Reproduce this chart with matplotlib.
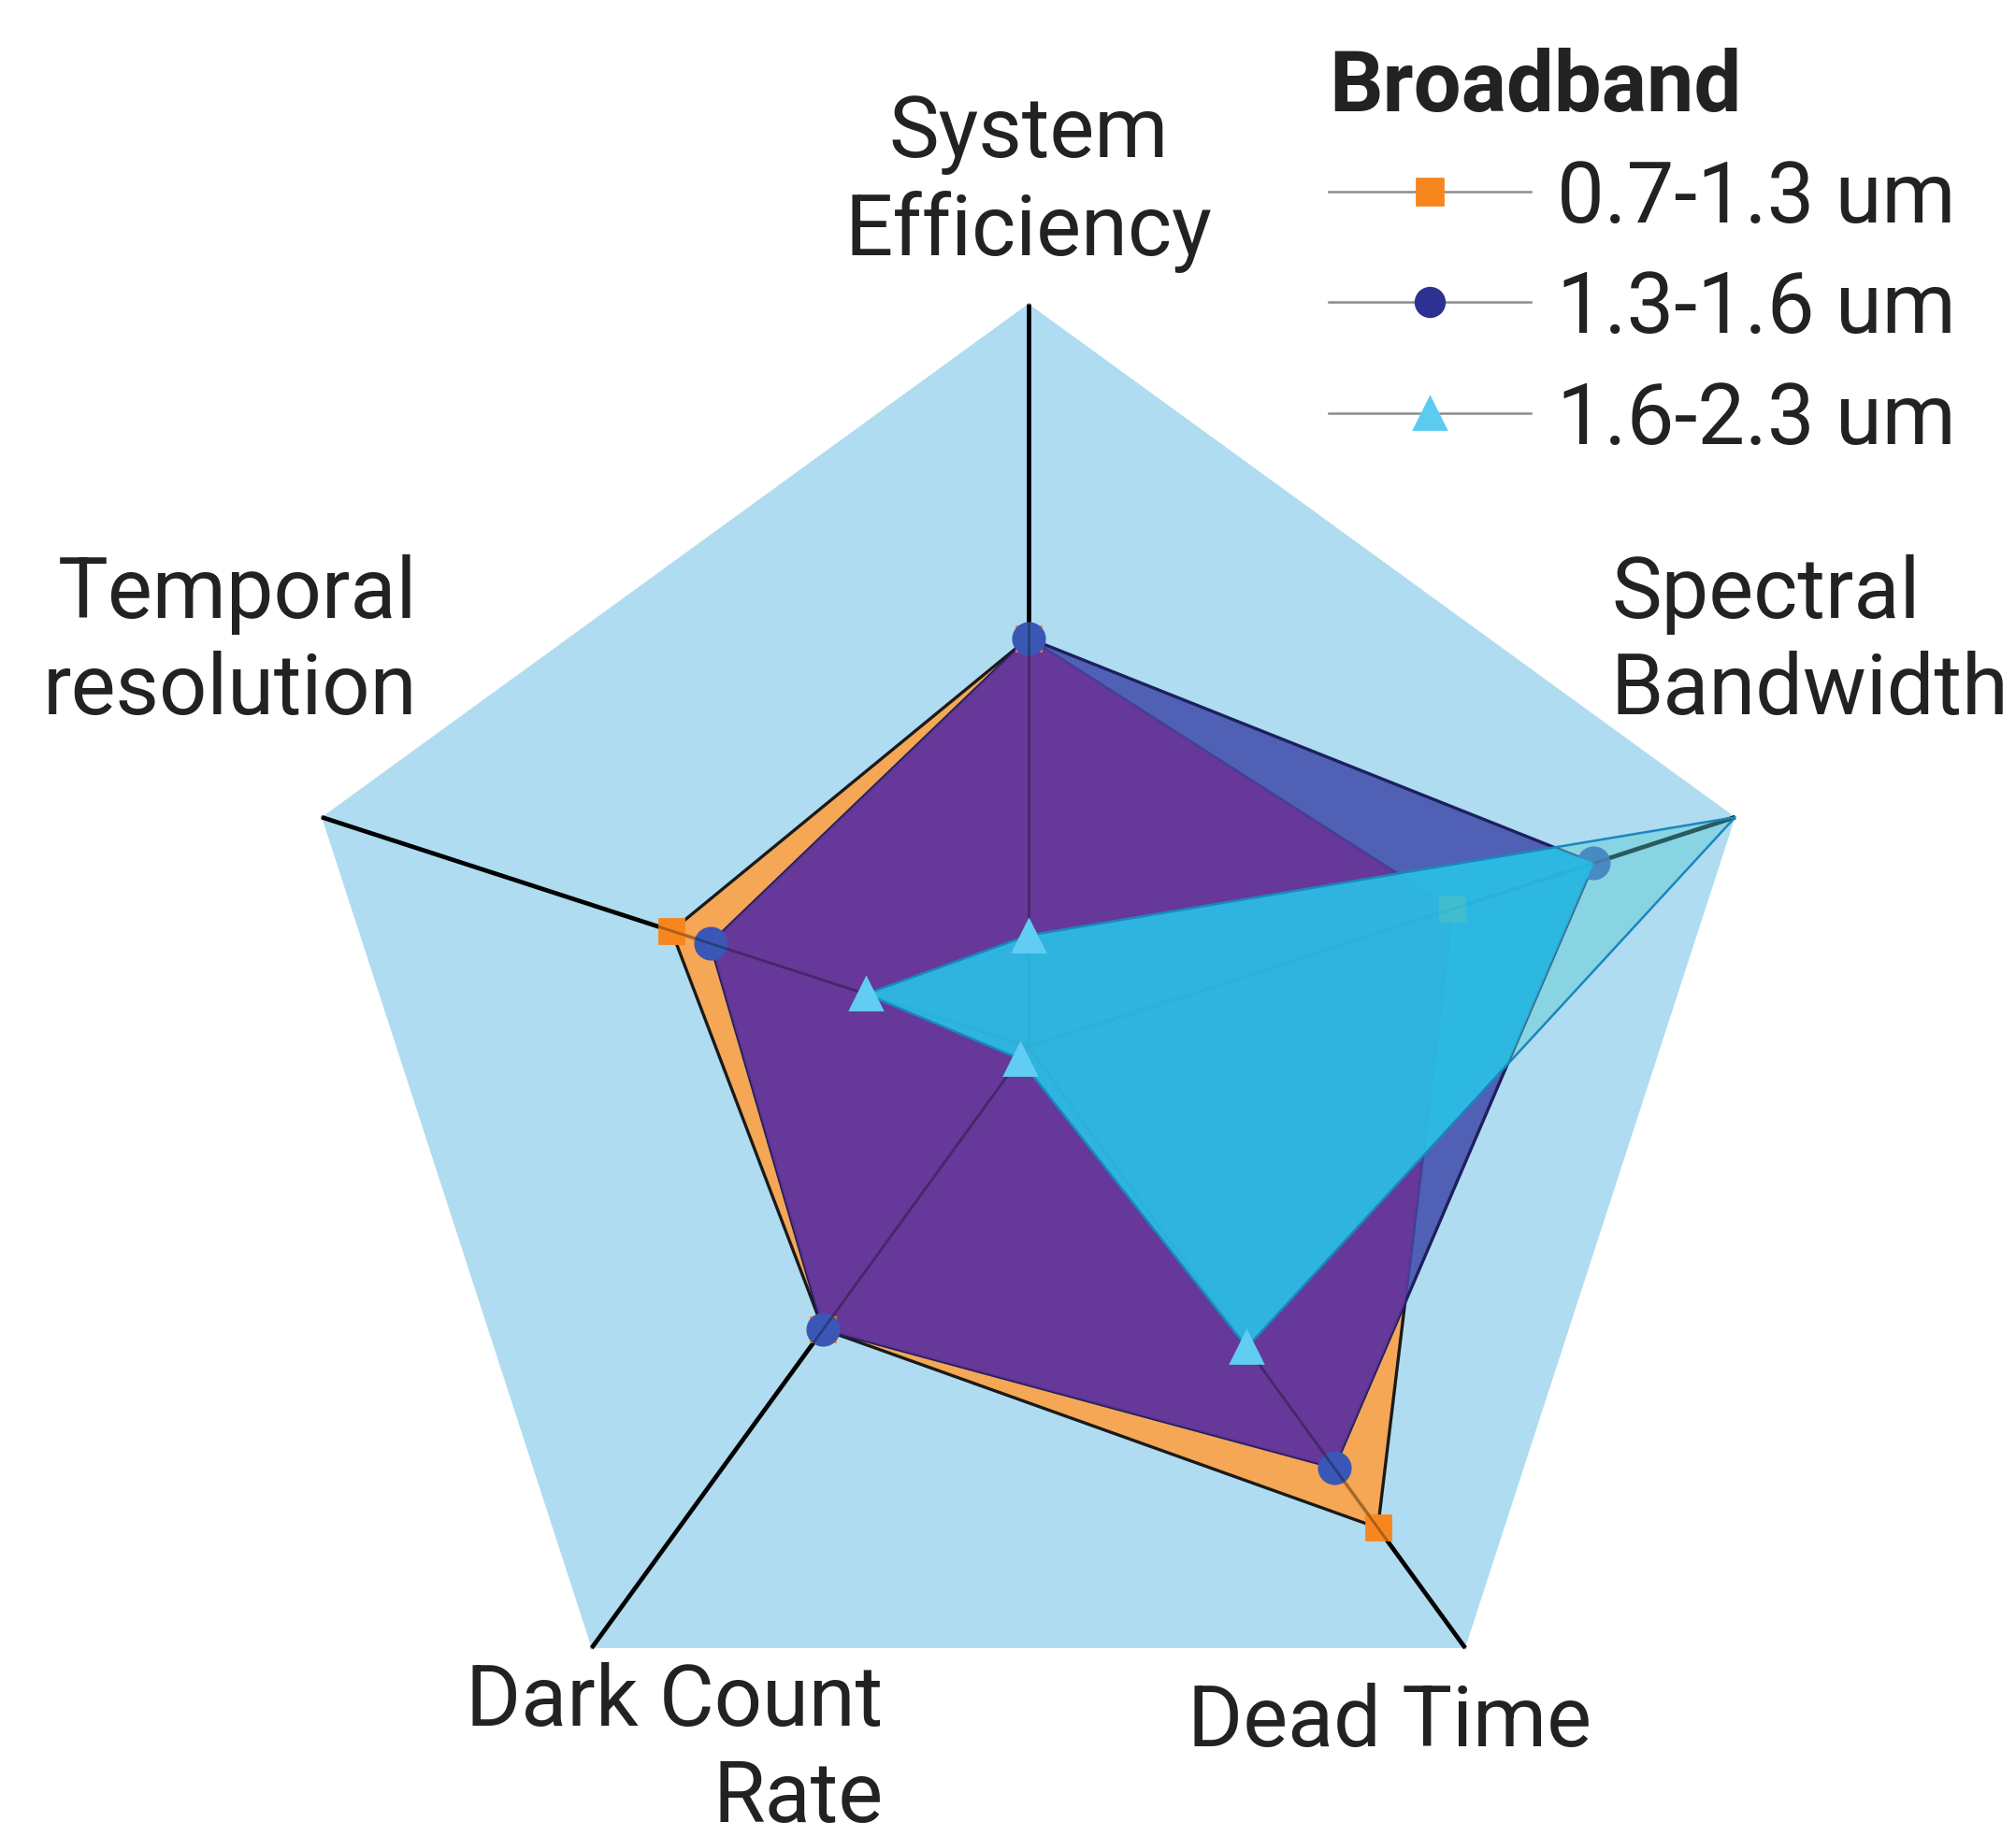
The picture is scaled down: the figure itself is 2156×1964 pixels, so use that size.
import numpy as np
import matplotlib
matplotlib.use("Agg")
import matplotlib.pyplot as plt
from matplotlib.patches import Polygon
from matplotlib.lines import Line2D
from matplotlib.colors import to_rgba

plt.rcParams['font.family'] = ['Roboto', 'DejaVu Sans']

categories = ["System\nEfficiency", "Spectral\nBandwidth", "Dead Time",
              "Dark Count\nRate", "Temporal\nresolution"]
series_names = ["0.7-1.3 um", "1.3-1.6 um", "1.6-2.3 um"]
band_07_13 = [0.55, 0.60, 0.80, 0.47, 0.505]
band_13_16 = [0.55, 0.80, 0.70, 0.47, 0.45]
band_16_23 = [0.15, 1.00, 0.50, 0.02, 0.23]

n = len(categories)
theta = np.pi / 2 - 2 * np.pi * np.arange(n) / n


def xy(vals):
    r = np.asarray(vals, dtype=float)
    return np.column_stack([r * np.cos(theta), r * np.sin(theta)])


fig = plt.figure(figsize=(10.78, 9.825), dpi=200)
ax = fig.add_axes([0, 0, 1, 1])
ax.set_xlim(-1.384, 1.329)
ax.set_ylim(-1.062, 1.410)
ax.axis('off')

# background pentagon (full scale)
ax.add_patch(Polygon(xy(np.ones(n)), closed=True, fc='#AFDCF0', ec='none', zorder=0))

# spokes
for t in theta:
    ax.plot([0, np.cos(t)], [0, np.sin(t)], color='black', lw=1.7, zorder=1,
            solid_capstyle='butt')

# 0.7-1.3 um
pts_o = xy(band_07_13)
ax.add_patch(Polygon(pts_o, closed=True, fc=to_rgba('#FDA244', 0.9),
                     ec='#1a1a1a', lw=1.2, zorder=2))

# 1.3-1.6 um
pts_b = xy(band_13_16)
blue_patch = Polygon(pts_b, closed=True, fc=to_rgba('#404AAB', 0.85),
                     ec='#1E1F5E', lw=1.2, zorder=4)
ax.add_patch(blue_patch)
overlap = Polygon(pts_o, closed=True, fc=to_rgba('#683499', 0.88), ec='none', zorder=4.5)
ax.add_patch(overlap)
overlap.set_clip_path(blue_patch)

ax.plot(pts_o[:, 0], pts_o[:, 1], 's', color='#F7861F', ms=9.5, zorder=4.8)
ax.plot(pts_b[:, 0], pts_b[:, 1], 'o', color='#3A57B5', ms=12, zorder=5)

# faint spokes seen through the fills
for t in theta:
    ax.plot([0, np.cos(t)], [0, np.sin(t)], color='black', lw=1.0, alpha=0.3, zorder=6)

# 1.6-2.3 um
pts_c = xy(band_16_23)
ax.add_patch(Polygon(pts_c, closed=True, fc=to_rgba('#5ACCD2', 0.45), ec='none', zorder=7))
bright = Polygon(pts_c, closed=True, fc=to_rgba('#22C4EC', 0.78), ec='none', zorder=7.5)
ax.add_patch(bright)
bright.set_clip_path(blue_patch)
ax.add_patch(Polygon(pts_c, closed=True, fill=False, ec='#1A86C0', lw=0.9, zorder=8))
inner = np.asarray(band_16_23) < 1
ax.plot(pts_c[inner, 0], pts_c[inner, 1], '^', color='#62CDF2', ms=12, zorder=9)

# category labels
fs = 32.5
ax.text(0, 1.163, categories[0], ha='center', va='center', fontsize=fs,
        linespacing=1.25, color='#222222')
ax.text(0.784, 0.545, categories[1], ha='left', va='center', fontsize=fs,
        linespacing=1.25, color='#222222')
ax.text(0.486, -0.908, categories[2], ha='center', va='center', fontsize=fs,
        color='#222222')
ax.text(-0.1955, -0.946, categories[3], ha='right', va='center', fontsize=fs,
        linespacing=1.25, multialignment='right', color='#222222')
ax.text(-0.822, 0.545, categories[4], ha='right', va='center', fontsize=fs,
        linespacing=1.25, multialignment='right', color='#222222')

# legend
handles = [
    Line2D([], [], color='#8C8C8C', lw=0.9, marker='s', mfc='#F7861F', mec='#F7861F', ms=10),
    Line2D([], [], color='#8C8C8C', lw=0.9, marker='o', mfc='#2D3192', mec='#2D3192', ms=11),
    Line2D([], [], color='#8C8C8C', lw=0.9, marker='^', mfc='#5BCBEF', mec='#5BCBEF', ms=12),
]
leg = fig.legend(handles, series_names, loc='upper left', bbox_to_anchor=(0.659, 0.974),
                 frameon=False, fontsize=fs, title='Broadband',
                 title_fontproperties={'weight': 'bold', 'size': fs},
                 alignment='left', handlelength=2.4, handletextpad=0.3,
                 labelspacing=0.36, borderpad=0, borderaxespad=0)
for t in leg.get_texts():
    t.set_color('#222222')
leg.get_title().set_color('#222222')

fig.savefig("out.png", dpi=200)
